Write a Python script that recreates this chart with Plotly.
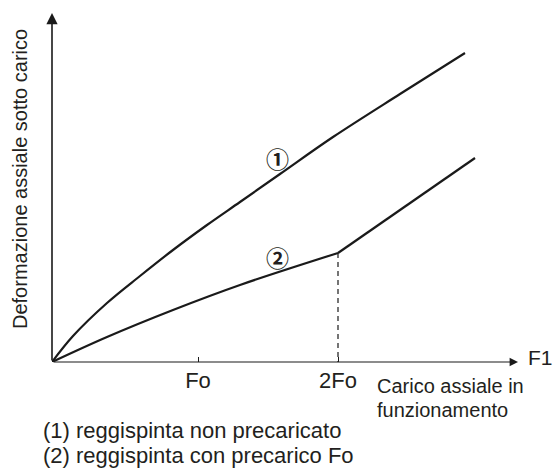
import plotly.graph_objects as pgo

# curve (1): thrust bearing without preload
load_free = [0, 21, 55, 88, 121, 155, 188, 228, 281, 348, 413]
deform_free = [0, 26, 59, 86, 112, 137, 160, 188, 225, 268, 309]

# curve (2): thrust bearing with preload Fo, kink at 2Fo
load_preload = [0, 55, 121, 188, 286]
deform_preload = [0, 25, 52, 77, 109]
load_after = [286, 423]
deform_after = [109, 204]

tick_pos = [146, 286]
tick_text = ["Fo", "2Fo"]
x_end = 466
y_end = 349

X_MAX = 500
Y_MAX = 362

TEXT = "#231f20"
LINE = "#1a1a1a"
FONT = "Liberation Sans, Arial, sans-serif"


def px(x):
    return x / X_MAX


def py(y):
    return y / Y_MAX


fig = pgo.Figure()
fig.add_trace(
    pgo.Scatter(
        x=load_free,
        y=deform_free,
        mode="lines",
        line=dict(color=LINE, width=2.2, shape="spline", smoothing=1.0),
        showlegend=False,
    )
)
fig.add_trace(
    pgo.Scatter(
        x=load_preload,
        y=deform_preload,
        mode="lines",
        line=dict(color=LINE, width=2.2, shape="spline", smoothing=1.0),
        showlegend=False,
    )
)
fig.add_trace(
    pgo.Scatter(
        x=load_after,
        y=deform_after,
        mode="lines",
        line=dict(color=LINE, width=2.2),
        showlegend=False,
    )
)

# dashed drop from the kink to the load axis
fig.add_shape(
    type="line",
    x0=load_after[0],
    y0=deform_after[0],
    x1=load_after[0],
    y1=0,
    line=dict(color=LINE, width=1.2, dash="5px,4px"),
)

# axes drawn as arrows
for tip_x, tip_y, width in ((x_end, 0, 1.2), (0, y_end, 1.6)):
    fig.add_annotation(
        x=tip_x,
        y=tip_y,
        ax=0,
        ay=0,
        xref="x",
        yref="y",
        axref="x",
        ayref="y",
        text="",
        showarrow=True,
        arrowhead=2,
        arrowsize=1.4,
        arrowwidth=width,
        arrowcolor=LINE,
    )

# curve labels
for lx, ly, txt in ((225, 204, "①"), (225, 105, "②")):
    fig.add_annotation(
        x=lx,
        y=ly,
        text="<b>" + txt + "</b>",
        showarrow=False,
        font=dict(family="Noto Sans CJK JP, DejaVu Sans", size=23, color=TEXT),
    )

# free texts, in plot pixel offsets from the origin (paper refs so they may sit outside)
texts = [
    dict(x=-32, y=183, text="Deformazione assiale sotto carico", size=20, angle=-90, anchor="center"),
    dict(x=474, y=5, text="F1", size=21, angle=0, anchor="left"),
    dict(x=323, y=-24, text="Carico assiale in", size=20, angle=0, anchor="left"),
    dict(x=323, y=-48, text="funzionamento", size=20, angle=0, anchor="left"),
    dict(x=-11, y=-68, text="(1) reggispinta non precaricato", size=22, angle=0, anchor="left"),
    dict(x=-11, y=-93, text="(2) reggispinta con precarico Fo", size=22, angle=0, anchor="left"),
]
for t in texts:
    fig.add_annotation(
        x=px(t["x"]),
        y=py(t["y"]),
        xref="paper",
        yref="paper",
        text=t["text"],
        textangle=t["angle"],
        xanchor=t["anchor"],
        yanchor="middle",
        showarrow=False,
        font=dict(family=FONT, size=t["size"], color=TEXT),
    )

fig.update_xaxes(
    range=[0, X_MAX],
    showgrid=False,
    zeroline=False,
    showline=False,
    tickvals=tick_pos,
    ticktext=tick_text,
    ticks="inside",
    ticklen=5,
    tickwidth=1.2,
    tickcolor=LINE,
    ticklabelstandoff=3,
    tickfont=dict(family=FONT, size=22, color=TEXT),
)
fig.update_yaxes(range=[0, Y_MAX], visible=False)
fig.update_layout(
    width=553,
    height=469,
    autosize=False,
    margin=dict(l=52, r=1, t=0, b=107),
    plot_bgcolor="white",
    paper_bgcolor="white",
)

# drop the default body margin so the figure fills the window exactly
fig.write_html(
    "out.html",
    config={"displayModeBar": False},
    post_script="document.body.style.margin = '0';",
)
